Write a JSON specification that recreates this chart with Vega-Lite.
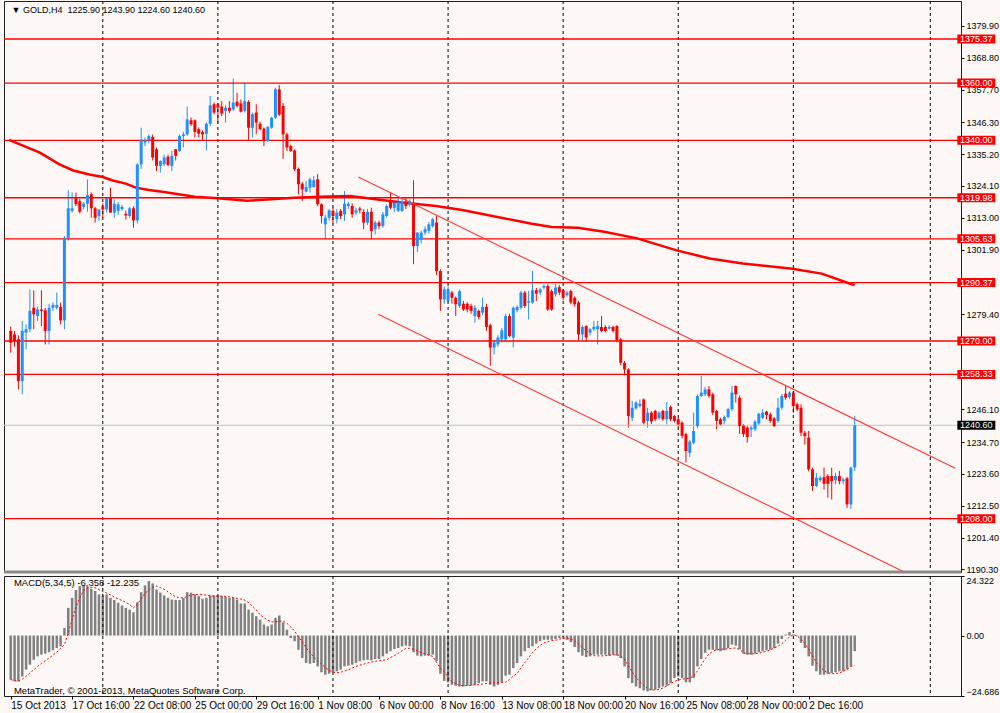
{
  "$schema": "https://vega.github.io/schema/vega-lite/v6.json",
  "background": "#fdf8f6",
  "padding": {"left": 2, "top": 0, "right": 1, "bottom": 5},
  "spacing": 4,
  "bounds": "flush",
  "config": {
    "view": {"stroke": "#202020", "strokeWidth": 1},
    "font": "Liberation Sans"
  },
  "datasets": {
    "bars": [
      {"i":0,"o":1273.5,"h":1275.0,"l":1265.9,"c":1269.4,"m":-18.0,"s":-18.0},
      {"i":1,"o":1272.3,"h":1273.5,"l":1268.0,"c":1270.0,"m":-18.7,"s":-18.4},
      {"i":2,"o":1270.6,"h":1272.0,"l":1253.1,"c":1256.0,"m":-18.7,"s":-18.7},
      {"i":3,"o":1256.0,"h":1277.0,"l":1251.4,"c":1273.5,"m":-16.7,"s":-17.8},
      {"i":4,"o":1272.9,"h":1275.8,"l":1267.1,"c":1274.1,"m":-13.9,"s":-16.7},
      {"i":5,"o":1274.1,"h":1288.0,"l":1273.0,"c":1280.5,"m":-11.9,"s":-15.3},
      {"i":6,"o":1281.6,"h":1287.7,"l":1274.1,"c":1279.3,"m":-9.9,"s":-14.0},
      {"i":7,"o":1278.7,"h":1282.0,"l":1277.0,"c":1281.0,"m":-8.5,"s":-12.6},
      {"i":8,"o":1281.0,"h":1287.7,"l":1275.2,"c":1280.5,"m":-7.8,"s":-11.4},
      {"i":9,"o":1280.7,"h":1281.5,"l":1268.8,"c":1273.5,"m":-7.4,"s":-10.3},
      {"i":10,"o":1273.5,"h":1283.0,"l":1268.8,"c":1281.6,"m":-6.8,"s":-9.2},
      {"i":11,"o":1281.6,"h":1283.5,"l":1280.5,"c":1282.6,"m":-6.0,"s":-8.0},
      {"i":12,"o":1281.6,"h":1286.9,"l":1281.0,"c":1282.6,"m":-5.1,"s":-6.8},
      {"i":13,"o":1281.9,"h":1283.4,"l":1275.8,"c":1277.2,"m":-4.4,"s":-5.2},
      {"i":14,"o":1277.2,"h":1306.6,"l":1274.1,"c":1306.0,"m":3.1,"s":-3.7},
      {"i":15,"o":1306.0,"h":1322.6,"l":1305.0,"c":1316.3,"m":11.3,"s":1.0},
      {"i":16,"o":1315.4,"h":1321.8,"l":1314.8,"c":1316.3,"m":15.4,"s":6.5},
      {"i":17,"o":1319.8,"h":1321.8,"l":1317.1,"c":1317.7,"m":18.6,"s":11.5},
      {"i":18,"o":1318.8,"h":1319.5,"l":1314.5,"c":1315.1,"m":20.2,"s":15.5},
      {"i":19,"o":1316.8,"h":1318.5,"l":1316.0,"c":1317.9,"m":20.5,"s":18.3},
      {"i":20,"o":1317.9,"h":1326.4,"l":1315.1,"c":1320.9,"m":20.2,"s":19.5},
      {"i":21,"o":1321.2,"h":1321.8,"l":1313.0,"c":1316.3,"m":19.1,"s":19.7},
      {"i":22,"o":1316.3,"h":1316.8,"l":1311.3,"c":1313.0,"m":18.2,"s":19.5},
      {"i":23,"o":1313.6,"h":1316.0,"l":1311.9,"c":1315.9,"m":16.8,"s":18.8},
      {"i":24,"o":1316.9,"h":1318.0,"l":1313.0,"c":1315.9,"m":16.4,"s":18.0},
      {"i":25,"o":1315.9,"h":1320.2,"l":1314.8,"c":1319.8,"m":16.8,"s":17.4},
      {"i":26,"o":1320.0,"h":1323.5,"l":1314.8,"c":1314.8,"m":15.4,"s":16.6},
      {"i":27,"o":1314.8,"h":1319.4,"l":1313.0,"c":1317.9,"m":14.5,"s":15.7},
      {"i":28,"o":1315.4,"h":1318.5,"l":1314.0,"c":1317.7,"m":13.4,"s":15.0},
      {"i":29,"o":1316.0,"h":1317.5,"l":1315.5,"c":1316.8,"m":12.3,"s":14.3},
      {"i":30,"o":1314.4,"h":1315.5,"l":1312.4,"c":1313.8,"m":11.3,"s":13.6},
      {"i":31,"o":1313.6,"h":1316.8,"l":1313.0,"c":1316.3,"m":10.6,"s":12.6},
      {"i":32,"o":1316.3,"h":1317.0,"l":1309.5,"c":1312.1,"m":9.5,"s":11.3},
      {"i":33,"o":1312.1,"h":1332.0,"l":1311.0,"c":1331.6,"m":13.6,"s":12.8},
      {"i":34,"o":1331.6,"h":1344.4,"l":1330.0,"c":1340.0,"m":17.7,"s":15.0},
      {"i":35,"o":1339.2,"h":1341.0,"l":1338.0,"c":1340.0,"m":20.5,"s":17.3},
      {"i":36,"o":1340.0,"h":1342.1,"l":1339.0,"c":1341.5,"m":22.3,"s":18.5},
      {"i":37,"o":1341.2,"h":1342.0,"l":1333.0,"c":1334.0,"m":21.3,"s":19.7},
      {"i":38,"o":1336.9,"h":1337.5,"l":1329.3,"c":1331.1,"m":18.8,"s":20.2},
      {"i":39,"o":1331.1,"h":1333.0,"l":1328.7,"c":1332.8,"m":17.5,"s":19.6},
      {"i":40,"o":1331.7,"h":1335.0,"l":1331.0,"c":1334.0,"m":16.4,"s":18.9},
      {"i":41,"o":1334.3,"h":1335.0,"l":1331.0,"c":1331.4,"m":15.4,"s":17.8},
      {"i":42,"o":1331.1,"h":1336.3,"l":1329.3,"c":1334.6,"m":14.7,"s":16.8},
      {"i":43,"o":1336.9,"h":1337.0,"l":1333.0,"c":1334.6,"m":14.5,"s":15.8},
      {"i":44,"o":1336.3,"h":1342.0,"l":1336.0,"c":1341.5,"m":14.5,"s":15.5},
      {"i":45,"o":1341.5,"h":1343.0,"l":1337.5,"c":1342.1,"m":15.4,"s":15.4},
      {"i":46,"o":1342.1,"h":1351.8,"l":1341.5,"c":1347.3,"m":17.7,"s":15.9},
      {"i":47,"o":1347.0,"h":1348.0,"l":1345.0,"c":1345.6,"m":17.5,"s":16.6},
      {"i":48,"o":1347.0,"h":1347.3,"l":1341.0,"c":1342.9,"m":16.8,"s":16.8},
      {"i":49,"o":1343.9,"h":1344.5,"l":1341.0,"c":1342.3,"m":16.1,"s":16.8},
      {"i":50,"o":1342.9,"h":1343.5,"l":1339.8,"c":1342.1,"m":15.0,"s":16.8},
      {"i":51,"o":1342.3,"h":1346.3,"l":1336.5,"c":1345.8,"m":15.4,"s":16.5},
      {"i":52,"o":1345.8,"h":1355.5,"l":1345.0,"c":1352.2,"m":16.4,"s":16.2},
      {"i":53,"o":1352.6,"h":1353.2,"l":1349.1,"c":1349.7,"m":16.4,"s":16.1},
      {"i":54,"o":1352.6,"h":1353.0,"l":1346.2,"c":1351.4,"m":16.4,"s":16.1},
      {"i":55,"o":1351.8,"h":1353.7,"l":1348.5,"c":1349.4,"m":16.1,"s":16.1},
      {"i":56,"o":1350.3,"h":1352.2,"l":1346.2,"c":1351.4,"m":15.8,"s":16.0},
      {"i":57,"o":1351.4,"h":1353.7,"l":1349.5,"c":1350.3,"m":15.4,"s":15.8},
      {"i":58,"o":1350.8,"h":1361.6,"l":1350.3,"c":1353.2,"m":15.4,"s":15.5},
      {"i":59,"o":1353.5,"h":1356.6,"l":1351.4,"c":1352.0,"m":14.7,"s":15.2},
      {"i":60,"o":1352.9,"h":1354.3,"l":1349.7,"c":1350.0,"m":13.1,"s":14.9},
      {"i":61,"o":1350.3,"h":1360.1,"l":1349.7,"c":1353.7,"m":13.1,"s":14.5},
      {"i":62,"o":1353.4,"h":1354.0,"l":1339.8,"c":1344.4,"m":10.6,"s":13.5},
      {"i":63,"o":1344.4,"h":1349.7,"l":1341.0,"c":1349.1,"m":9.3,"s":12.0},
      {"i":64,"o":1349.7,"h":1352.6,"l":1342.1,"c":1346.2,"m":7.9,"s":10.5},
      {"i":65,"o":1345.8,"h":1346.5,"l":1343.5,"c":1343.9,"m":6.5,"s":8.5},
      {"i":66,"o":1344.1,"h":1344.5,"l":1338.0,"c":1339.8,"m":4.5,"s":7.3},
      {"i":67,"o":1339.8,"h":1345.0,"l":1339.5,"c":1344.7,"m":3.8,"s":6.3},
      {"i":68,"o":1344.4,"h":1348.2,"l":1344.0,"c":1347.9,"m":4.5,"s":5.6},
      {"i":69,"o":1347.9,"h":1358.4,"l":1347.5,"c":1357.8,"m":7.2,"s":5.6},
      {"i":70,"o":1357.8,"h":1359.3,"l":1348.5,"c":1349.0,"m":8.2,"s":5.9},
      {"i":71,"o":1352.0,"h":1353.0,"l":1333.6,"c":1342.1,"m":5.4,"s":5.9},
      {"i":72,"o":1342.1,"h":1342.7,"l":1336.3,"c":1337.5,"m":2.4,"s":5.0},
      {"i":73,"o":1338.0,"h":1338.5,"l":1336.0,"c":1336.3,"m":-1.0,"s":3.5},
      {"i":74,"o":1336.5,"h":1336.9,"l":1329.3,"c":1329.9,"m":-2.3,"s":1.8},
      {"i":75,"o":1330.0,"h":1330.5,"l":1321.2,"c":1324.7,"m":-5.8,"s":-0.5},
      {"i":76,"o":1324.9,"h":1325.5,"l":1318.9,"c":1322.9,"m":-9.2,"s":-2.6},
      {"i":77,"o":1322.1,"h":1325.8,"l":1321.8,"c":1323.7,"m":-11.2,"s":-5.0},
      {"i":78,"o":1323.5,"h":1327.0,"l":1321.8,"c":1326.4,"m":-11.5,"s":-7.0},
      {"i":79,"o":1323.7,"h":1327.5,"l":1323.5,"c":1326.1,"m":-11.2,"s":-8.8},
      {"i":80,"o":1326.4,"h":1328.2,"l":1317.0,"c":1317.7,"m":-12.6,"s":-10.3},
      {"i":81,"o":1317.7,"h":1318.0,"l":1311.0,"c":1313.6,"m":-15.0,"s":-11.7},
      {"i":82,"o":1310.7,"h":1314.0,"l":1305.5,"c":1313.0,"m":-16.0,"s":-13.0},
      {"i":83,"o":1313.0,"h":1316.0,"l":1312.0,"c":1315.6,"m":-15.6,"s":-14.2},
      {"i":84,"o":1315.4,"h":1316.5,"l":1311.0,"c":1313.6,"m":-15.0,"s":-14.9},
      {"i":85,"o":1312.5,"h":1316.0,"l":1311.0,"c":1314.8,"m":-14.6,"s":-15.2},
      {"i":86,"o":1315.4,"h":1316.0,"l":1312.5,"c":1313.6,"m":-13.9,"s":-15.0},
      {"i":87,"o":1314.2,"h":1322.3,"l":1311.9,"c":1317.9,"m":-12.6,"s":-14.5},
      {"i":88,"o":1317.1,"h":1318.5,"l":1316.0,"c":1317.9,"m":-12.3,"s":-14.0},
      {"i":89,"o":1317.1,"h":1318.0,"l":1313.0,"c":1314.2,"m":-11.9,"s":-13.3},
      {"i":90,"o":1314.8,"h":1316.5,"l":1314.0,"c":1315.6,"m":-11.2,"s":-12.6},
      {"i":91,"o":1316.2,"h":1316.8,"l":1314.5,"c":1315.6,"m":-10.5,"s":-12.1},
      {"i":92,"o":1315.0,"h":1316.0,"l":1309.0,"c":1311.3,"m":-10.1,"s":-11.7},
      {"i":93,"o":1311.3,"h":1316.0,"l":1310.5,"c":1315.0,"m":-9.9,"s":-11.2},
      {"i":94,"o":1315.1,"h":1316.5,"l":1305.5,"c":1308.4,"m":-10.1,"s":-10.8},
      {"i":95,"o":1309.0,"h":1312.0,"l":1307.2,"c":1311.3,"m":-9.6,"s":-10.5},
      {"i":96,"o":1311.3,"h":1312.0,"l":1309.0,"c":1310.1,"m":-9.6,"s":-10.3},
      {"i":97,"o":1310.1,"h":1315.0,"l":1309.5,"c":1314.2,"m":-8.5,"s":-10.1},
      {"i":98,"o":1313.6,"h":1317.7,"l":1313.0,"c":1317.1,"m":-7.4,"s":-9.9},
      {"i":99,"o":1319.1,"h":1321.8,"l":1316.0,"c":1316.5,"m":-6.4,"s":-9.0},
      {"i":100,"o":1316.5,"h":1319.0,"l":1315.0,"c":1318.3,"m":-5.5,"s":-8.2},
      {"i":101,"o":1315.4,"h":1320.0,"l":1315.0,"c":1318.5,"m":-5.1,"s":-7.3},
      {"i":102,"o":1315.4,"h":1320.0,"l":1315.0,"c":1318.8,"m":-4.4,"s":-6.2},
      {"i":103,"o":1318.6,"h":1320.0,"l":1316.0,"c":1317.1,"m":-4.1,"s":-5.3},
      {"i":104,"o":1317.7,"h":1319.4,"l":1317.0,"c":1318.8,"m":-4.4,"s":-5.2},
      {"i":105,"o":1317.7,"h":1326.1,"l":1296.8,"c":1303.1,"m":-6.8,"s":-5.6},
      {"i":106,"o":1303.1,"h":1308.0,"l":1301.0,"c":1307.8,"m":-8.2,"s":-6.2},
      {"i":107,"o":1305.5,"h":1308.5,"l":1304.0,"c":1307.8,"m":-8.5,"s":-6.9},
      {"i":108,"o":1307.8,"h":1310.0,"l":1307.0,"c":1309.0,"m":-8.2,"s":-7.4},
      {"i":109,"o":1308.4,"h":1311.5,"l":1307.5,"c":1310.7,"m":-8.2,"s":-8.0},
      {"i":110,"o":1310.1,"h":1313.0,"l":1309.5,"c":1312.5,"m":-7.8,"s":-8.5},
      {"i":111,"o":1311.3,"h":1313.6,"l":1293.0,"c":1294.4,"m":-10.5,"s":-11.0},
      {"i":112,"o":1294.4,"h":1295.0,"l":1280.5,"c":1284.5,"m":-15.6,"s":-13.3},
      {"i":113,"o":1284.5,"h":1289.0,"l":1283.0,"c":1288.0,"m":-18.5,"s":-14.8},
      {"i":114,"o":1284.0,"h":1289.0,"l":1283.5,"c":1288.0,"m":-19.1,"s":-17.0},
      {"i":115,"o":1286.9,"h":1287.5,"l":1283.0,"c":1285.1,"m":-20.1,"s":-18.7},
      {"i":116,"o":1285.1,"h":1285.5,"l":1278.7,"c":1282.8,"m":-20.5,"s":-19.7},
      {"i":117,"o":1282.2,"h":1288.0,"l":1281.5,"c":1287.4,"m":-20.8,"s":-20.4},
      {"i":118,"o":1283.0,"h":1284.0,"l":1280.5,"c":1281.0,"m":-20.8,"s":-20.5},
      {"i":119,"o":1283.0,"h":1283.5,"l":1280.0,"c":1281.0,"m":-20.5,"s":-20.4},
      {"i":120,"o":1282.2,"h":1283.0,"l":1279.5,"c":1280.5,"m":-20.4,"s":-20.3},
      {"i":121,"o":1278.7,"h":1282.5,"l":1276.4,"c":1281.6,"m":-20.1,"s":-20.1},
      {"i":122,"o":1280.5,"h":1281.0,"l":1277.5,"c":1278.4,"m":-19.4,"s":-20.0},
      {"i":123,"o":1279.9,"h":1285.1,"l":1279.0,"c":1281.9,"m":-18.7,"s":-19.8},
      {"i":124,"o":1281.9,"h":1283.0,"l":1273.5,"c":1274.9,"m":-18.7,"s":-19.6},
      {"i":125,"o":1275.5,"h":1276.0,"l":1261.3,"c":1267.7,"m":-20.1,"s":-19.4},
      {"i":126,"o":1267.7,"h":1270.0,"l":1265.3,"c":1269.4,"m":-20.8,"s":-19.3},
      {"i":127,"o":1268.8,"h":1272.0,"l":1268.0,"c":1271.2,"m":-20.1,"s":-19.3},
      {"i":128,"o":1270.6,"h":1274.5,"l":1269.5,"c":1273.7,"m":-19.1,"s":-19.2},
      {"i":129,"o":1270.6,"h":1279.5,"l":1270.0,"c":1278.7,"m":-16.4,"s":-19.1},
      {"i":130,"o":1278.7,"h":1279.5,"l":1271.2,"c":1271.7,"m":-16.0,"s":-18.0},
      {"i":131,"o":1271.2,"h":1282.0,"l":1267.7,"c":1281.6,"m":-13.3,"s":-16.5},
      {"i":132,"o":1280.7,"h":1282.5,"l":1280.0,"c":1281.9,"m":-11.2,"s":-15.5},
      {"i":133,"o":1281.6,"h":1287.5,"l":1281.0,"c":1286.9,"m":-8.5,"s":-13.3},
      {"i":134,"o":1286.9,"h":1287.5,"l":1281.5,"c":1282.2,"m":-6.4,"s":-11.0},
      {"i":135,"o":1283.4,"h":1287.4,"l":1277.5,"c":1283.9,"m":-5.1,"s":-9.0},
      {"i":136,"o":1283.4,"h":1294.4,"l":1283.0,"c":1287.7,"m":-4.4,"s":-7.0},
      {"i":137,"o":1287.7,"h":1288.5,"l":1283.9,"c":1286.5,"m":-3.3,"s":-5.4},
      {"i":138,"o":1286.9,"h":1288.6,"l":1286.0,"c":1288.0,"m":-2.3,"s":-4.0},
      {"i":139,"o":1288.6,"h":1289.8,"l":1288.0,"c":1289.2,"m":-1.7,"s":-3.0},
      {"i":140,"o":1289.2,"h":1289.8,"l":1280.5,"c":1281.0,"m":-1.7,"s":-2.5},
      {"i":141,"o":1287.4,"h":1288.0,"l":1280.5,"c":1281.0,"m":-1.7,"s":-2.1},
      {"i":142,"o":1286.3,"h":1290.0,"l":1285.5,"c":1288.6,"m":-1.4,"s":-1.9},
      {"i":143,"o":1288.8,"h":1289.5,"l":1286.0,"c":1286.9,"m":-1.0,"s":-1.5},
      {"i":144,"o":1287.7,"h":1288.0,"l":1284.2,"c":1285.1,"m":-0.6,"s":-1.0},
      {"i":145,"o":1286.0,"h":1287.5,"l":1285.5,"c":1286.9,"m":-1.7,"s":-1.1},
      {"i":146,"o":1287.4,"h":1288.0,"l":1282.8,"c":1283.4,"m":-2.7,"s":-1.5},
      {"i":147,"o":1285.1,"h":1285.5,"l":1282.0,"c":1282.8,"m":-4.7,"s":-2.0},
      {"i":148,"o":1283.4,"h":1284.0,"l":1270.0,"c":1272.3,"m":-6.8,"s":-3.5},
      {"i":149,"o":1272.3,"h":1275.5,"l":1270.0,"c":1274.9,"m":-8.2,"s":-5.0},
      {"i":150,"o":1275.2,"h":1275.5,"l":1270.0,"c":1271.2,"m":-8.8,"s":-6.2},
      {"i":151,"o":1272.9,"h":1274.5,"l":1272.0,"c":1274.1,"m":-8.5,"s":-7.3},
      {"i":152,"o":1274.1,"h":1277.0,"l":1273.5,"c":1274.9,"m":-7.8,"s":-8.2},
      {"i":153,"o":1274.1,"h":1277.0,"l":1268.8,"c":1275.2,"m":-7.8,"s":-8.3},
      {"i":154,"o":1274.9,"h":1278.7,"l":1273.0,"c":1273.5,"m":-7.8,"s":-8.3},
      {"i":155,"o":1274.9,"h":1275.5,"l":1273.0,"c":1273.5,"m":-7.8,"s":-8.2},
      {"i":156,"o":1274.3,"h":1275.5,"l":1274.0,"c":1274.9,"m":-8.2,"s":-8.0},
      {"i":157,"o":1274.9,"h":1275.3,"l":1273.0,"c":1273.5,"m":-7.8,"s":-7.9},
      {"i":158,"o":1275.2,"h":1275.5,"l":1269.5,"c":1270.2,"m":-8.2,"s":-7.8},
      {"i":159,"o":1270.6,"h":1271.0,"l":1261.5,"c":1262.4,"m":-9.2,"s":-8.3},
      {"i":160,"o":1262.4,"h":1263.0,"l":1258.0,"c":1260.1,"m":-12.6,"s":-9.8},
      {"i":161,"o":1260.1,"h":1260.5,"l":1239.8,"c":1243.8,"m":-17.4,"s":-12.3},
      {"i":162,"o":1243.2,"h":1249.1,"l":1242.1,"c":1246.7,"m":-19.4,"s":-14.9},
      {"i":163,"o":1246.5,"h":1249.0,"l":1246.0,"c":1248.5,"m":-20.8,"s":-17.2},
      {"i":164,"o":1247.3,"h":1249.6,"l":1246.8,"c":1248.1,"m":-21.5,"s":-18.8},
      {"i":165,"o":1249.6,"h":1250.0,"l":1240.9,"c":1241.5,"m":-22.4,"s":-20.3},
      {"i":166,"o":1242.1,"h":1246.7,"l":1239.8,"c":1245.0,"m":-22.8,"s":-21.6},
      {"i":167,"o":1245.0,"h":1245.5,"l":1241.0,"c":1241.9,"m":-22.4,"s":-22.2},
      {"i":168,"o":1245.6,"h":1246.0,"l":1242.0,"c":1242.7,"m":-22.1,"s":-22.2},
      {"i":169,"o":1243.0,"h":1245.5,"l":1242.5,"c":1245.0,"m":-21.5,"s":-22.0},
      {"i":170,"o":1245.6,"h":1246.0,"l":1242.2,"c":1242.7,"m":-20.8,"s":-21.4},
      {"i":171,"o":1242.7,"h":1248.7,"l":1240.9,"c":1245.6,"m":-20.5,"s":-20.6},
      {"i":172,"o":1247.0,"h":1247.5,"l":1242.0,"c":1242.7,"m":-19.4,"s":-19.6},
      {"i":173,"o":1243.8,"h":1244.2,"l":1241.5,"c":1242.1,"m":-17.4,"s":-18.7},
      {"i":174,"o":1242.7,"h":1243.2,"l":1240.0,"c":1240.9,"m":-16.7,"s":-18.2},
      {"i":175,"o":1241.5,"h":1242.0,"l":1236.0,"c":1236.9,"m":-17.4,"s":-17.8},
      {"i":176,"o":1237.5,"h":1238.0,"l":1227.6,"c":1231.6,"m":-19.1,"s":-17.6},
      {"i":177,"o":1231.0,"h":1235.5,"l":1229.5,"c":1234.9,"m":-19.1,"s":-17.4},
      {"i":178,"o":1234.5,"h":1245.0,"l":1234.0,"c":1238.6,"m":-17.4,"s":-16.5},
      {"i":179,"o":1240.3,"h":1251.4,"l":1239.5,"c":1250.8,"m":-12.6,"s":-14.5},
      {"i":180,"o":1250.8,"h":1257.8,"l":1250.5,"c":1252.0,"m":-9.6,"s":-12.0},
      {"i":181,"o":1251.4,"h":1254.0,"l":1250.8,"c":1253.1,"m":-7.1,"s":-9.5},
      {"i":182,"o":1253.1,"h":1254.3,"l":1250.2,"c":1250.8,"m":-5.8,"s":-7.5},
      {"i":183,"o":1251.4,"h":1252.0,"l":1244.2,"c":1245.0,"m":-5.8,"s":-6.4},
      {"i":184,"o":1245.6,"h":1246.0,"l":1239.2,"c":1242.1,"m":-6.0,"s":-5.9},
      {"i":185,"o":1242.7,"h":1243.2,"l":1240.5,"c":1240.9,"m":-6.4,"s":-5.6},
      {"i":186,"o":1242.1,"h":1244.0,"l":1240.9,"c":1243.5,"m":-6.0,"s":-5.5},
      {"i":187,"o":1243.5,"h":1246.7,"l":1243.0,"c":1246.2,"m":-5.1,"s":-5.4},
      {"i":188,"o":1246.2,"h":1254.3,"l":1245.6,"c":1252.0,"m":-3.7,"s":-5.2},
      {"i":189,"o":1254.3,"h":1254.5,"l":1248.5,"c":1251.4,"m":-4.1,"s":-5.1},
      {"i":190,"o":1250.2,"h":1251.0,"l":1237.5,"c":1240.3,"m":-5.5,"s":-5.7},
      {"i":191,"o":1240.5,"h":1241.0,"l":1236.5,"c":1237.5,"m":-7.4,"s":-7.0},
      {"i":192,"o":1239.8,"h":1240.3,"l":1234.5,"c":1236.5,"m":-7.8,"s":-7.4},
      {"i":193,"o":1239.2,"h":1240.3,"l":1236.5,"c":1239.8,"m":-7.8,"s":-7.5},
      {"i":194,"o":1239.2,"h":1242.5,"l":1238.5,"c":1241.9,"m":-7.4,"s":-7.4},
      {"i":195,"o":1241.2,"h":1245.0,"l":1240.5,"c":1244.6,"m":-6.8,"s":-7.2},
      {"i":196,"o":1243.2,"h":1246.2,"l":1242.7,"c":1245.0,"m":-6.4,"s":-6.8},
      {"i":197,"o":1245.4,"h":1245.6,"l":1242.7,"c":1244.2,"m":-6.0,"s":-6.4},
      {"i":198,"o":1244.4,"h":1245.0,"l":1241.5,"c":1242.1,"m":-5.8,"s":-5.8},
      {"i":199,"o":1243.0,"h":1243.5,"l":1240.0,"c":1240.3,"m":-5.1,"s":-5.1},
      {"i":200,"o":1242.1,"h":1250.2,"l":1241.5,"c":1246.7,"m":-3.3,"s":-4.4},
      {"i":201,"o":1246.7,"h":1251.5,"l":1246.0,"c":1250.8,"m":-1.4,"s":-3.3},
      {"i":202,"o":1251.6,"h":1254.3,"l":1249.5,"c":1250.2,"m":0.4,"s":-1.9},
      {"i":203,"o":1250.5,"h":1252.5,"l":1249.8,"c":1252.0,"m":1.4,"s":-0.6},
      {"i":204,"o":1252.0,"h":1252.5,"l":1245.0,"c":1247.3,"m":0.4,"s":0.4},
      {"i":205,"o":1247.9,"h":1248.5,"l":1245.5,"c":1246.1,"m":-0.3,"s":-0.2},
      {"i":206,"o":1246.7,"h":1247.9,"l":1236.8,"c":1238.0,"m":-3.0,"s":-1.5},
      {"i":207,"o":1238.0,"h":1238.6,"l":1233.9,"c":1236.8,"m":-5.1,"s":-3.3},
      {"i":208,"o":1236.3,"h":1238.6,"l":1224.5,"c":1225.2,"m":-8.5,"s":-5.6},
      {"i":209,"o":1225.2,"h":1225.8,"l":1217.7,"c":1219.4,"m":-12.3,"s":-8.3},
      {"i":210,"o":1219.4,"h":1224.0,"l":1219.0,"c":1222.3,"m":-14.6,"s":-11.0},
      {"i":211,"o":1221.4,"h":1223.0,"l":1220.8,"c":1222.3,"m":-16.0,"s":-12.8},
      {"i":212,"o":1222.5,"h":1225.8,"l":1218.2,"c":1220.2,"m":-16.0,"s":-14.3},
      {"i":213,"o":1222.9,"h":1223.5,"l":1215.3,"c":1220.2,"m":-15.6,"s":-15.3},
      {"i":214,"o":1222.9,"h":1225.8,"l":1214.7,"c":1221.1,"m":-15.3,"s":-15.6},
      {"i":215,"o":1221.4,"h":1224.0,"l":1220.0,"c":1222.9,"m":-15.0,"s":-15.5},
      {"i":216,"o":1222.9,"h":1224.7,"l":1220.0,"c":1221.1,"m":-14.6,"s":-15.3},
      {"i":217,"o":1221.1,"h":1222.3,"l":1220.0,"c":1221.7,"m":-14.6,"s":-14.6},
      {"i":218,"o":1222.1,"h":1222.5,"l":1211.8,"c":1213.0,"m":-13.9,"s":-13.8},
      {"i":219,"o":1213.0,"h":1226.2,"l":1211.3,"c":1225.8,"m":-12.6,"s":-12.6},
      {"i":220,"o":1225.9,"h":1243.9,"l":1224.6,"c":1240.6,"m":-6.358,"s":-12.235}
    ],
    "ma": [
      {"i":-0.45,"p":1340.2},{"i":7.6,"p":1335.7},{"i":12.7,"p":1331.6},{"i":16.3,"p":1329.5},
      {"i":20.5,"p":1328.1},{"i":24,"p":1327.2},{"i":26.6,"p":1326.0},{"i":30,"p":1324.9},
      {"i":32.6,"p":1323.5},{"i":36,"p":1322.7},{"i":39.5,"p":1322.1},{"i":42.9,"p":1321.4},
      {"i":48,"p":1320.3},{"i":54,"p":1319.8},{"i":61.7,"p":1318.9},{"i":67,"p":1319.4},
      {"i":73.9,"p":1320.0},{"i":80.7,"p":1320.3},{"i":88.5,"p":1320.6},{"i":93.6,"p":1319.7},
      {"i":102,"p":1318.3},{"i":110.8,"p":1317.1},{"i":117.7,"p":1315.7},{"i":135.8,"p":1310.9},
      {"i":141,"p":1309.8},{"i":147.8,"p":1309.5},{"i":154.7,"p":1308.1},{"i":163.3,"p":1305.8},
      {"i":173.6,"p":1301.6},{"i":182.2,"p":1298.8},{"i":190.8,"p":1297.0},{"i":203.7,"p":1295.2},
      {"i":211.4,"p":1293.5},{"i":219.2,"p":1289.8},{"i":220,"p":1289.5}
    ],
    "channel": [
      {"line":"upper","i":90.6,"p":1327.2},{"line":"upper","i":246.2,"p":1225.6},
      {"line":"lower","i":95.8,"p":1279.3},{"line":"lower","i":232.9,"p":1189.4}
    ],
    "levels": [
      {"v":1375.37},{"v":1360.0},{"v":1340.0},{"v":1319.98},{"v":1305.63},
      {"v":1290.37},{"v":1270.0},{"v":1258.33},{"v":1208.0}
    ],
    "bid": [{"v":1240.6}],
    "grid": [{"g":24},{"g":54},{"g":84},{"g":114},{"g":144},{"g":174},{"g":204},{"g":239.7}],
    "one": [{}]
  },
  "vconcat": [
    {
      "width": 957,
      "height": 571,
      "layer": [
        {
          "data": {"name": "bars"},
          "mark": {"type": "rule", "strokeWidth": 1},
          "encoding": {
            "x": {"field": "i", "type": "quantitative", "axis": null,
                  "scale": {"domain": [-0.45, 246.4], "nice": false, "zero": false}},
            "y": {"field": "l", "type": "quantitative",
                  "scale": {"domain": [1189.4, 1388.62], "nice": false, "zero": false},
                  "axis": {"orient": "right", "title": null, "grid": false, "domain": false,
                           "labels": true, "ticks": true,
                           "values": [1379.9, 1368.8, 1357.7, 1346.3, 1335.2, 1324.1, 1313.0, 1301.9, 1279.4, 1246.1, 1234.7, 1223.6, 1212.5, 1201.4, 1190.3],
                           "format": ".2f", "tickSize": 3, "tickColor": "#000",
                           "labelFont": "Liberation Sans", "labelFontSize": 9, "labelColor": "#000",
                           "labelPadding": 2, "labelOverlap": false, "labelFlush": false}},
            "y2": {"field": "h"},
            "color": {"condition": {"test": "datum.c >= datum.o", "value": "#1e90ff"}, "value": "#ff0000"}
          }
        },
        {
          "data": {"name": "grid"},
          "mark": {"type": "rule", "color": "#000", "strokeWidth": 1, "strokeDash": [3, 3]},
          "encoding": {"x": {"field": "g", "type": "quantitative", "axis": null}}
        },
        {
          "data": {"name": "bid"},
          "mark": {"type": "rule", "color": "#c0c0c0", "strokeWidth": 1},
          "encoding": {"y": {"field": "v", "type": "quantitative", "title": null}}
        },
        {
          "data": {"name": "levels"},
          "mark": {"type": "rule", "color": "#ff0000", "strokeWidth": 1.3},
          "encoding": {"y": {"field": "v", "type": "quantitative", "title": null}}
        },
        {
          "data": {"name": "ma"},
          "mark": {"type": "line", "color": "#ff0000", "strokeWidth": 2.5},
          "encoding": {
            "x": {"field": "i", "type": "quantitative", "axis": null},
            "y": {"field": "p", "type": "quantitative", "title": null}
          }
        },
        {
          "data": {"name": "channel"},
          "mark": {"type": "line", "color": "#ff3b3b", "strokeWidth": 1.2},
          "encoding": {
            "x": {"field": "i", "type": "quantitative", "axis": null},
            "y": {"field": "p", "type": "quantitative", "title": null},
            "detail": {"field": "line"}
          }
        },
        {
          "data": {"name": "bars"},
          "mark": {"type": "bar", "size": 3, "orient": "vertical"},
          "encoding": {
            "x": {"field": "i", "type": "quantitative", "axis": null},
            "y": {"field": "o", "type": "quantitative", "title": null},
            "y2": {"field": "c"},
            "color": {"condition": {"test": "datum.c >= datum.o", "value": "#1e90ff"}, "value": "#ff0000"}
          }
        },
        {
          "data": {"name": "one"},
          "mark": {"type": "rule", "color": "#8a8a8a", "strokeWidth": 3},
          "encoding": {"y": {"datum": 1189.4, "type": "quantitative"}}
        },
        {
          "data": {"name": "levels"},
          "mark": {"type": "tick", "orient": "horizontal", "size": 38, "thickness": 9, "color": "#ff0000", "opacity": 1},
          "encoding": {
            "x": {"datum": 251.7, "type": "quantitative", "axis": null},
            "y": {"field": "v", "type": "quantitative", "title": null}
          }
        },
        {
          "data": {"name": "bid"},
          "mark": {"type": "tick", "orient": "horizontal", "size": 38, "thickness": 9, "color": "#000", "opacity": 1},
          "encoding": {
            "x": {"datum": 251.7, "type": "quantitative", "axis": null},
            "y": {"field": "v", "type": "quantitative", "title": null}
          }
        },
        {
          "data": {"name": "levels"},
          "mark": {"type": "text", "color": "#fff", "fontSize": 9, "align": "center", "baseline": "middle"},
          "encoding": {
            "x": {"datum": 251.7, "type": "quantitative", "axis": null},
            "y": {"field": "v", "type": "quantitative", "title": null},
            "text": {"field": "v", "type": "quantitative", "format": ".2f"}
          }
        },
        {
          "data": {"name": "bid"},
          "mark": {"type": "text", "color": "#fff", "fontSize": 9, "align": "center", "baseline": "middle"},
          "encoding": {
            "x": {"datum": 251.7, "type": "quantitative", "axis": null},
            "y": {"field": "v", "type": "quantitative", "title": null},
            "text": {"field": "v", "type": "quantitative", "format": ".2f"}
          }
        },
        {
          "data": {"name": "one"},
          "mark": {"type": "text", "color": "#000", "fontSize": 9, "align": "left", "baseline": "middle"},
          "encoding": {
            "x": {"datum": 0.2, "type": "quantitative", "axis": null},
            "y": {"datum": 1385.4, "type": "quantitative"},
            "text": {"value": "▼ GOLD,H4\u00a0\u00a01225.90 1243.90 1224.60 1240.60"}
          }
        }
      ]
    },
    {
      "width": 957,
      "height": 120,
      "layer": [
        {
          "data": {"name": "bars"},
          "mark": {"type": "bar", "size": 2.5, "orient": "vertical", "color": "#808080"},
          "encoding": {
            "x": {"field": "i", "type": "quantitative",
                  "scale": {"domain": [-0.45, 246.4], "nice": false, "zero": false},
                  "axis": {"orient": "bottom", "title": null, "grid": false, "domain": false,
                           "labels": true, "ticks": true,
                           "values": [0, 16, 32, 48, 64, 80, 96, 112, 128, 144, 160, 176, 192, 208],
                           "labelExpr": "['15 Oct 2013','17 Oct 16:00','22 Oct 08:00','25 Oct 00:00','29 Oct 16:00','1 Nov 08:00','6 Nov 00:00','8 Nov 16:00','13 Nov 08:00','18 Nov 00:00','20 Nov 16:00','25 Nov 08:00','28 Nov 00:00','2 Dec 16:00'][round(datum.value / 16)]",
                           "labelAlign": "left", "labelFlush": false, "labelOverlap": false,
                           "tickSize": 3, "tickColor": "#000", "labelPadding": 1,
                           "labelFont": "Liberation Sans", "labelFontSize": 10, "labelColor": "#000"}},
            "y": {"field": "m", "type": "quantitative", "stack": null,
                  "scale": {"domain": [-24.686, 24.322], "nice": false, "zero": false},
                  "axis": {"orient": "right", "title": null, "grid": false, "domain": false,
                           "labels": true, "ticks": true,
                           "values": [24.322, 0, -24.686],
                           "labelExpr": "datum.value == 0 ? '0.00' : format(datum.value, '.3f')",
                           "tickSize": 3, "tickColor": "#000",
                           "labelFont": "Liberation Sans", "labelFontSize": 9, "labelColor": "#000",
                           "labelPadding": 2, "labelFlush": true}}
          }
        },
        {
          "data": {"name": "grid"},
          "mark": {"type": "rule", "color": "#000", "strokeWidth": 1, "strokeDash": [3, 3]},
          "encoding": {"x": {"field": "g", "type": "quantitative", "title": null}}
        },
        {
          "data": {"name": "bars"},
          "mark": {"type": "line", "color": "#ff0000", "strokeWidth": 1, "strokeDash": [2, 2]},
          "encoding": {
            "x": {"field": "i", "type": "quantitative", "title": null},
            "y": {"field": "s", "type": "quantitative", "title": null}
          }
        },
        {
          "data": {"name": "one"},
          "mark": {"type": "text", "color": "#000", "fontSize": 9.5, "align": "left", "baseline": "middle"},
          "encoding": {
            "x": {"datum": 0.84, "type": "quantitative"},
            "y": {"datum": 21.45, "type": "quantitative"},
            "text": {"value": "MACD(5,34,5) -6.358 -12.235"}
          }
        },
        {
          "data": {"name": "one"},
          "mark": {"type": "text", "color": "#000", "fontSize": 9.5, "align": "left", "baseline": "middle"},
          "encoding": {
            "x": {"datum": 0.84, "type": "quantitative"},
            "y": {"datum": -22.45, "type": "quantitative"},
            "text": {"value": "MetaTrader, © 2001-2013, MetaQuotes Software Corp."}
          }
        }
      ]
    }
  ]
}
